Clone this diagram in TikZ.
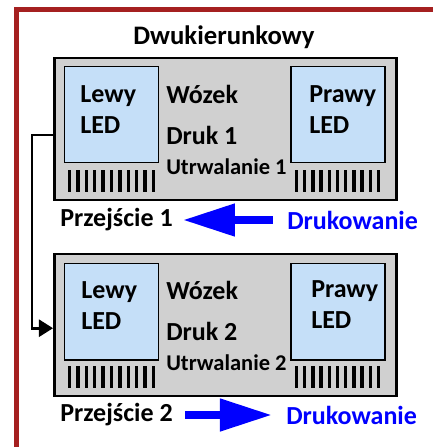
\documentclass[tikz,border=0pt]{standalone}
\usepackage{fontspec}
\setmainfont{Carlito}
\usetikzlibrary{arrows.meta,positioning}
\definecolor{framered}{HTML}{A52020}
\definecolor{cargray} {HTML}{D0D0D0}
\definecolor{ledblue} {HTML}{C5DFF8}
\definecolor{prtblue} {HTML}{0000FF}

\begin{document}
\begin{tikzpicture}[
  carriage/.style={draw,fill=cargray,line width=2pt,
                   minimum width=8.55cm,minimum height=3.55cm,inner sep=0pt},
  led/.style={draw,fill=ledblue,line width=1.4pt,
              minimum width=2.35cm,minimum height=2.4cm},
  lbl/.style={anchor=west,inner sep=0pt,align=left,
              font=\bfseries\fontsize{18.5}{22}\selectfont},
  small/.style={lbl,font=\bfseries\fontsize{16}{20}\selectfont},
  bar/.style={line width=2.3pt},
  flow/.style={draw=prtblue,line width=5.7pt,
               -{Triangle[length=37pt,width=22pt]}},
  link/.style={line width=2pt,-{Triangle[length=10pt,width=12pt]}},
  x=0.025cm,y=-0.025cm
]
\useasboundingbox (0,0) rectangle (433,447);
% frame
\draw[framered,line width=3pt] (16.5,460) -- (16.5,9.5) -- (450,9.5);
\node[lbl,anchor=center,font=\bfseries\fontsize{19}{22}\selectfont] (title) at (224,37) {Dwukierunkowy};
% carriage 1
\node[carriage] (car1) at (225.5,129) {};
\node[led] (left1)  at (111.5,114.5) {};
\node[led] (right1) at (338,114.5)   {};
\node[lbl] (ltxt1)  at (80,109.5)  {Lewy\\LED};
\node[lbl] (rtxt1)  at (309,109.5) {Prawy\\LED};
\node[lbl] (cart1)  at (166,94)  {Wózek};
\node[lbl] (print1) at (166,135) {Druk 1};
\node[small] (fix1) at (166,167) {Utrwalanie 1};
% carriage 2
\node[carriage] (car2) at (225.5,325) {};
\node[led] (left2)  at (111.5,311.5) {};
\node[led] (right2) at (338,311.5)   {};
\node[lbl] (ltxt2)  at (81,306)  {Lewy\\LED};
\node[lbl] (rtxt2)  at (311,305) {Prawy\\LED};
\node[lbl] (cart2)  at (166,290) {Wózek};
\node[lbl] (print2) at (166,331) {Druk 2};
\node[small] (fix2) at (166,363) {Utrwalanie 2};
% heaters
\foreach \y in {170,366}{
  \foreach \i in {0,...,10}{
    \draw[bar] ({69.5+\i*8.4},\y) -- ++(0,22);
    \draw[bar] ({296.5+\i*8.2},\y) -- ++(0,22);
  }
}
% passes
\node[lbl] (pass1) at (60,220) {Przejście 1};
\node[lbl,text=prtblue] (dir1) at (287,220) {Drukowanie};
\node[lbl] (pass2) at (60,415) {Przejście 2};
\node[lbl,text=prtblue] (dir2) at (286,415) {Drukowanie};

\draw[flow,shorten <=10pt,shorten >=7pt] (dir1.west) -- (pass1.east);
\draw[flow,shorten <=8.5pt,shorten >=10pt] (pass2.east) -- (dir2.west);
\draw[link] ([yshift=-0.15cm]car1.west) -- ++(-21,0) |- ([yshift=-0.08cm]car2.west);
\end{tikzpicture}
\end{document}
